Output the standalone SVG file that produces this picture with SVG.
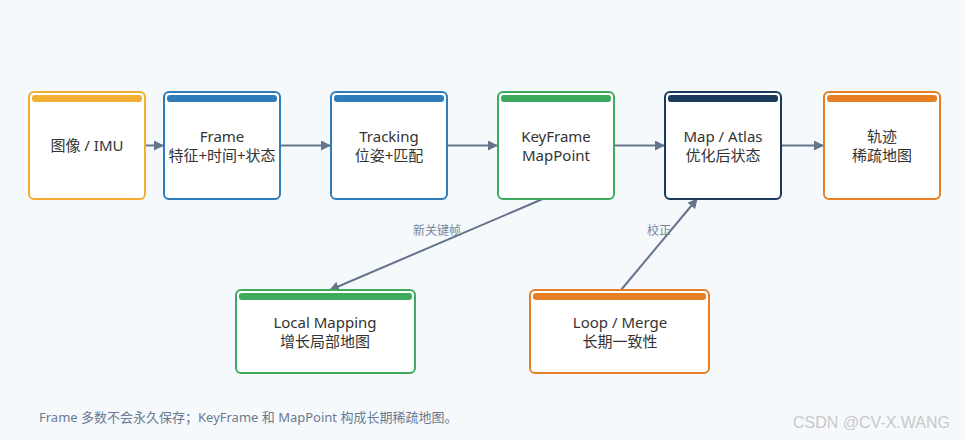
<svg xmlns="http://www.w3.org/2000/svg" width="965" height="440" viewBox="0 0 965 440">
<defs>
<marker id="ah" viewBox="0 0 10 10" refX="9" refY="5" markerWidth="10" markerHeight="10" markerUnits="userSpaceOnUse" orient="auto">
<path d="M0,0 L10,5 L0,10 z" fill="#64748b"/>
</marker>
<style>
.box{fill:#ffffff;stroke-width:2}
.t{font-family:"Noto Sans","Noto Sans CJK SC",sans-serif;font-size:15px;fill:#333333;text-anchor:middle}
.lbl{font-family:"Noto Sans","Noto Sans CJK SC",sans-serif;font-size:12px;fill:#7a869a;text-anchor:middle}
.edge{stroke:#64748b;stroke-width:2;fill:none;marker-end:url(#ah)}
.foot{font-family:"Noto Sans","Noto Sans CJK SC",sans-serif;font-size:13px;fill:#6b7a90}
.wm{font-family:"Liberation Sans",Arial,sans-serif;font-size:16px;fill:#c8c8c8}
.yel{stroke:#f2ae30}.yelf{fill:#f2ae30}
.blu{stroke:#2e7dba}.bluf{fill:#2e7dba}
.grn{stroke:#3dab5d}.grnf{fill:#3dab5d}
.nav{stroke:#1b3a5a}.navf{fill:#1b3a5a}
.org{stroke:#e67f24}.orgf{fill:#e67f24}
</style>
</defs>
<rect x="0" y="0" width="965" height="440" fill="#f5f9fc"/>
<g id="connectors">
<line class="edge" x1="146" y1="145.5" x2="163" y2="145.5"/>
<line class="edge" x1="281" y1="145.5" x2="330" y2="145.5"/>
<line class="edge" x1="448" y1="145.5" x2="497" y2="145.5"/>
<line class="edge" x1="615" y1="145.5" x2="664" y2="145.5"/>
<line class="edge" x1="782" y1="145.5" x2="823" y2="145.5"/>
<line class="edge" x1="545" y1="198" x2="330" y2="290"/>
<text class="lbl" x="437" y="235">新关键帧</text>
<line class="edge" x1="621" y1="290" x2="697" y2="199"/>
<text class="lbl" x="659" y="235">校正</text>
</g>
<g id="n-imu">
<rect class="box yel" x="29" y="92" width="116" height="107" rx="5"/>
<rect class="yelf" x="32" y="95" width="110" height="7" rx="3"/>
<text class="t" x="87" y="151">图像 / IMU</text>
</g>
<g id="n-frame">
<rect class="box blu" x="164" y="92" width="116" height="107" rx="5"/>
<rect class="bluf" x="167" y="95" width="110" height="7" rx="3"/>
<text class="t" x="222" y="142">Frame</text>
<text class="t" x="222" y="161">特征+时间+状态</text>
</g>
<g id="n-tracking">
<rect class="box blu" x="331" y="92" width="116" height="107" rx="5"/>
<rect class="bluf" x="334" y="95" width="110" height="7" rx="3"/>
<text class="t" x="389" y="142">Tracking</text>
<text class="t" x="389" y="161">位姿+匹配</text>
</g>
<g id="n-keyframe">
<rect class="box grn" x="498" y="92" width="116" height="107" rx="5"/>
<rect class="grnf" x="501" y="95" width="110" height="7" rx="3"/>
<text class="t" x="556" y="142">KeyFrame</text>
<text class="t" x="556" y="161">MapPoint</text>
</g>
<g id="n-map">
<rect class="box nav" x="665" y="92" width="116" height="107" rx="5"/>
<rect class="navf" x="668" y="95" width="110" height="7" rx="3"/>
<text class="t" x="723" y="142">Map / Atlas</text>
<text class="t" x="723" y="161">优化后状态</text>
</g>
<g id="n-traj">
<rect class="box org" x="824" y="92" width="116" height="107" rx="5"/>
<rect class="orgf" x="827" y="95" width="110" height="7" rx="3"/>
<text class="t" x="882" y="142">轨迹</text>
<text class="t" x="882" y="161">稀疏地图</text>
</g>
<g id="n-local">
<rect class="box grn" x="236" y="290" width="179" height="83" rx="5"/>
<rect class="grnf" x="239" y="293" width="173" height="7" rx="3"/>
<text class="t" x="325" y="328">Local Mapping</text>
<text class="t" x="325" y="347">增长局部地图</text>
</g>
<g id="n-loop">
<rect class="box org" x="530" y="290" width="179" height="83" rx="5"/>
<rect class="orgf" x="533" y="293" width="173" height="7" rx="3"/>
<text class="t" x="620" y="328">Loop / Merge</text>
<text class="t" x="620" y="347">长期一致性</text>
</g>
<text class="foot" x="39" y="422">Frame 多数不会永久保存；KeyFrame 和 MapPoint 构成长期稀疏地图。</text>
<text class="wm" x="793" y="428">CSDN @CV-X.WANG</text>
</svg>
